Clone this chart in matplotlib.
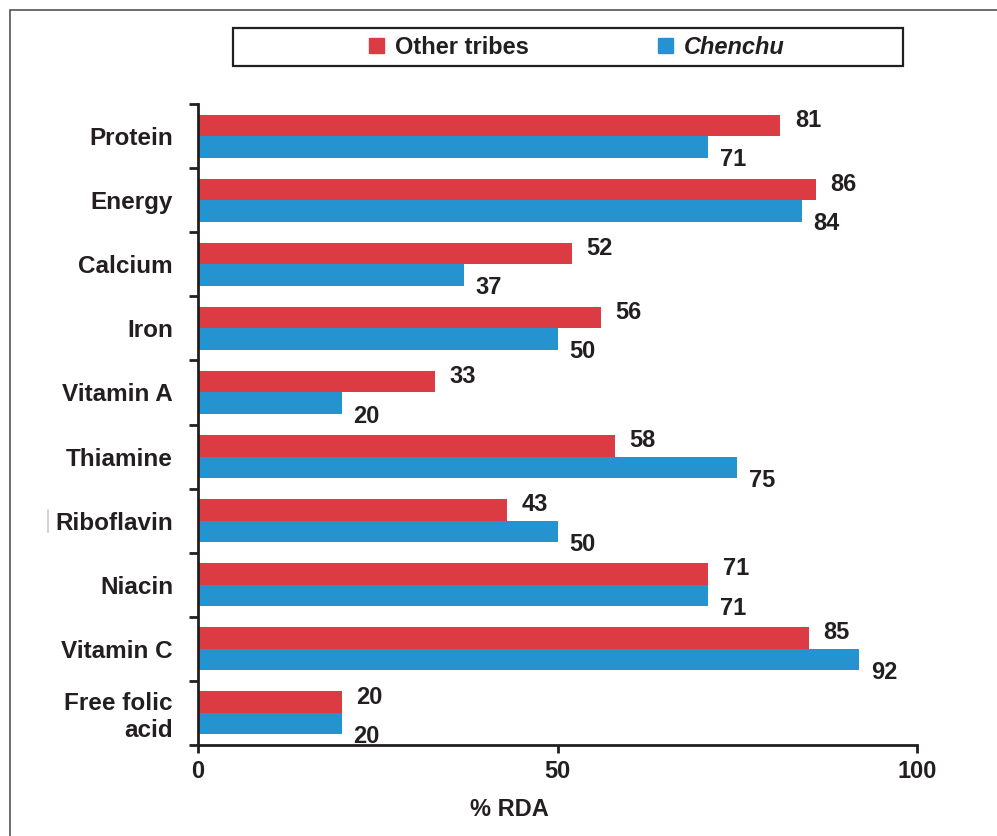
import numpy as np
import matplotlib.pyplot as plt
from matplotlib.lines import Line2D
from matplotlib.patches import Rectangle, Patch

nutrients = ['Protein', 'Energy', 'Calcium', 'Iron', 'Vitamin A', 'Thiamine',
             'Riboflavin', 'Niacin', 'Vitamin C', 'Free folic\nacid']
other_tribes = [81, 86, 52, 56, 33, 58, 43, 71, 85, 20]
chenchu = [71, 84, 37, 50, 20, 75, 50, 71, 92, 20]

red = '#dc3b43'
blue = '#2593d0'
ink = '#231f20'

plt.rcParams['font.family'] = ['Liberation Sans', 'DejaVu Sans']
plt.rcParams['font.weight'] = 'bold'

W, H = 997, 836
fig = plt.figure(figsize=(W / 100, H / 100), dpi=100)
ax = fig.add_axes([198 / W, 1 - 745 / H, (917 - 198) / W, (745 - 104) / H])

idx = np.arange(len(nutrients))
h = 0.335
ax.barh(idx - h / 2, other_tribes, height=h, color=red)
ax.barh(idx + h / 2, chenchu, height=h, color=blue)

# value labels
for i, v in enumerate(other_tribes):
    ax.text(v + 2.0, i - h / 2 - 0.08, str(v), ha='left', va='center',
            fontsize=17, fontweight='bold', color=ink)
for i, v in enumerate(chenchu):
    ax.text(v + 1.6, i + h / 2 + 0.2, str(v), ha='left', va='center',
            fontsize=17, fontweight='bold', color=ink)

ax.set_xlim(0, 100)
ax.set_ylim(len(nutrients) - 0.5, -0.5)
ax.set_xticks([0, 50, 100])
ax.set_yticks(idx)
ax.set_yticklabels(nutrients, fontsize=17.5, fontweight='bold', color=ink)
ax.set_yticks(np.arange(-0.5, len(nutrients), 1), minor=True)
ax.tick_params(axis='y', which='major', length=0, pad=18)
ax.tick_params(axis='y', which='minor', length=6.5, width=2, color=ink, direction='out')
ax.tick_params(axis='x', length=6, width=2, color=ink, labelsize=17, pad=5, labelcolor=ink)
for lab in ax.get_xticklabels():
    lab.set_fontweight('bold')

for s in ['top', 'right']:
    ax.spines[s].set_visible(False)
for s in ['left', 'bottom']:
    ax.spines[s].set_linewidth(2)
    ax.spines[s].set_color(ink)

fig.text(509 / W, 1 - 810 / H, '% RDA', ha='center', va='center',
         fontsize=17, fontweight='bold', color=ink)

# legend box
fig.add_artist(Rectangle((233 / W, 1 - 66 / H), 670 / W, 38 / H, transform=fig.transFigure,
                         fill=False, edgecolor=ink, linewidth=1.6))
handles = [Patch(color=red, label='Other tribes'), Patch(color=blue, label='Chenchu')]
leg = fig.legend(handles=handles, loc='center', bbox_to_anchor=(577 / W, 1 - 47 / H),
                 ncol=2, frameon=False, fontsize=17, handlelength=0.62, handleheight=0.62,
                 handletextpad=0.45, columnspacing=5.5)
for t in leg.get_texts():
    t.set_color(ink)
leg.get_texts()[1].set_fontstyle('italic')

# figure frame
fig.add_artist(Rectangle((10 / W, -0.01), 1.0, 1 - 10 / H + 0.01, transform=fig.transFigure,
                         fill=False, edgecolor='#555555', linewidth=1.2))
fig.add_artist(Line2D([48 / W, 48 / W], [1 - 532 / H, 1 - 510 / H], transform=fig.transFigure,
                      color='#cccccc', linewidth=1.2))

fig.savefig('out.png', dpi=100)
